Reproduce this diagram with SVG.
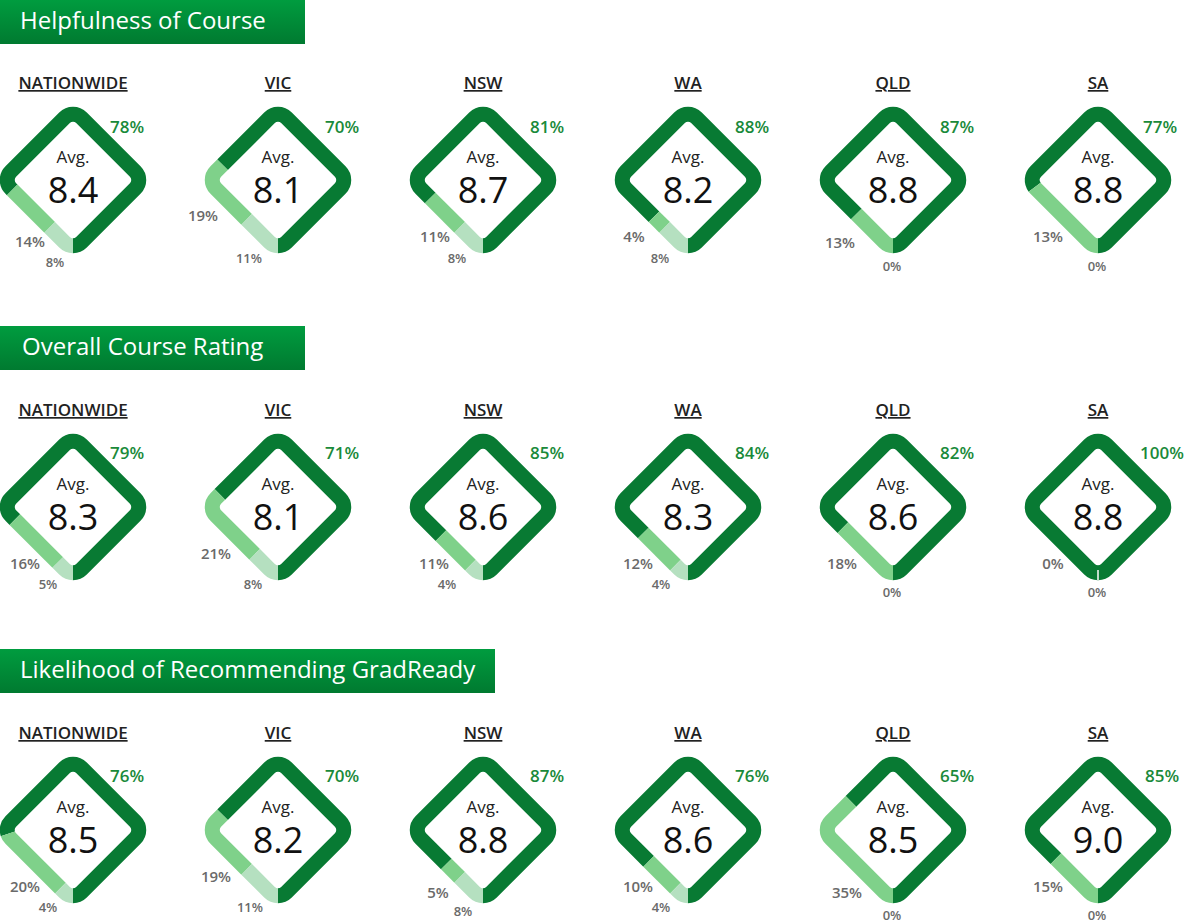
<svg xmlns="http://www.w3.org/2000/svg" xmlns:xlink="http://www.w3.org/1999/xlink" width="1189" height="922" viewBox="0 0 1189 922">
<style>
text{font-family:"Open Sans","Noto Sans",sans-serif}
.hd{fill:#fff;font-size:24px}
.reg{font-size:17px;font-weight:600;fill:#222;text-anchor:middle;text-decoration:underline}
.avg{font-size:17px;fill:#222;text-anchor:middle}
.num{font-size:36px;font-weight:500;fill:#111;text-anchor:middle}
.pd{font-size:17px;font-weight:600;fill:#1a8a3a;text-anchor:middle}
.pm{font-size:15px;font-weight:600;fill:#6a6a6a;text-anchor:middle}
.pp{font-size:13px;font-weight:600;fill:#6a6a6a;text-anchor:middle}
.d{fill:none;stroke:#087a33;stroke-width:15}
.m{fill:none;stroke:#7fd18a;stroke-width:15}
.p{fill:none;stroke:#b5e0c0;stroke-width:15}
</style>
<defs>
<linearGradient id="g" x1="0" y1="0" x2="0" y2="1"><stop offset="0" stop-color="#009c3f"/><stop offset="1" stop-color="#007a30"/></linearGradient>
<path id="ring" pathLength="100" d="M46.49 46.49 A12 12 0 0 0 50 38 L50 -38 A12 12 0 0 0 38 -50 L-38 -50 A12 12 0 0 0 -50 -38 L-50 38 A12 12 0 0 0 -38 50 L38 50 A12 12 0 0 0 46.49 46.49"/>
</defs>
<g id="h1"><rect x="0" y="0" width="305" height="44" fill="url(#g)"/><text class="hd" x="20" y="29">Helpfulness of Course</text></g>
<g id="h2"><rect x="0" y="326" width="305" height="44" fill="url(#g)"/><text class="hd" x="22" y="355">Overall Course Rating</text></g>
<g id="h3"><rect x="0" y="649" width="495" height="44" fill="url(#g)"/><text class="hd" x="20" y="678">Likelihood of Recommending GradReady</text></g>

<!-- Row 1 -->
<g id="r1n"><text class="reg" x="73" y="89">NATIONWIDE</text><g transform="translate(73,180) rotate(45)"><use xlink:href="#ring" class="d" stroke-dasharray="78 100"/><use xlink:href="#ring" class="m" stroke-dasharray="0 78 14 100"/><use xlink:href="#ring" class="p" stroke-dasharray="0 92 8 100"/></g><text class="avg" x="73" y="163">Avg.</text><text class="num" x="73" y="203">8.4</text><text class="pd" x="127" y="133">78%</text><text class="pm" x="30" y="247">14%</text><text class="pp" x="55" y="267">8%</text></g>
<g id="r1v"><text class="reg" x="278" y="89">VIC</text><g transform="translate(278,180) rotate(45)"><use xlink:href="#ring" class="d" stroke-dasharray="70 100"/><use xlink:href="#ring" class="m" stroke-dasharray="0 70 19 100"/><use xlink:href="#ring" class="p" stroke-dasharray="0 89 11 100"/></g><text class="avg" x="278" y="163">Avg.</text><text class="num" x="278" y="203">8.1</text><text class="pd" x="342" y="133">70%</text><text class="pm" x="203" y="221">19%</text><text class="pp" x="249" y="263">11%</text></g>
<g id="r1s"><text class="reg" x="483" y="89">NSW</text><g transform="translate(483,180) rotate(45)"><use xlink:href="#ring" class="d" stroke-dasharray="81 100"/><use xlink:href="#ring" class="m" stroke-dasharray="0 81 11 100"/><use xlink:href="#ring" class="p" stroke-dasharray="0 92 8 100"/></g><text class="avg" x="483" y="163">Avg.</text><text class="num" x="483" y="203">8.7</text><text class="pd" x="547" y="133">81%</text><text class="pm" x="435" y="242">11%</text><text class="pp" x="457" y="263">8%</text></g>
<g id="r1w"><text class="reg" x="688" y="89">WA</text><g transform="translate(688,180) rotate(45)"><use xlink:href="#ring" class="d" stroke-dasharray="88 100"/><use xlink:href="#ring" class="m" stroke-dasharray="0 88 4 100"/><use xlink:href="#ring" class="p" stroke-dasharray="0 92 8 100"/></g><text class="avg" x="688" y="163">Avg.</text><text class="num" x="688" y="203">8.2</text><text class="pd" x="752" y="133">88%</text><text class="pm" x="634" y="242">4%</text><text class="pp" x="660" y="263">8%</text></g>
<g id="r1q"><text class="reg" x="893" y="89">QLD</text><g transform="translate(893,180) rotate(45)"><use xlink:href="#ring" class="d" stroke-dasharray="87 100"/><use xlink:href="#ring" class="m" stroke-dasharray="0 87 13 100"/></g><text class="avg" x="893" y="163">Avg.</text><text class="num" x="893" y="203">8.8</text><text class="pd" x="957" y="133">87%</text><text class="pm" x="840" y="248">13%</text><text class="pp" x="892" y="271">0%</text></g>
<g id="r1a"><text class="reg" x="1098" y="89">SA</text><g transform="translate(1098,180) rotate(45)"><use xlink:href="#ring" class="d" stroke-dasharray="77 100"/><use xlink:href="#ring" class="m" stroke-dasharray="0 77 23 100"/></g><text class="avg" x="1098" y="163">Avg.</text><text class="num" x="1098" y="203">8.8</text><text class="pd" x="1160" y="133">77%</text><text class="pm" x="1048" y="242">13%</text><text class="pp" x="1097" y="271">0%</text></g>

<!-- Row 2 -->
<g id="r2n"><text class="reg" x="73" y="416">NATIONWIDE</text><g transform="translate(73,507) rotate(45)"><use xlink:href="#ring" class="d" stroke-dasharray="79 100"/><use xlink:href="#ring" class="m" stroke-dasharray="0 79 16 100"/><use xlink:href="#ring" class="p" stroke-dasharray="0 95 5 100"/></g><text class="avg" x="73" y="490">Avg.</text><text class="num" x="73" y="530">8.3</text><text class="pd" x="127" y="459">79%</text><text class="pm" x="25" y="569">16%</text><text class="pp" x="48" y="589">5%</text></g>
<g id="r2v"><text class="reg" x="278" y="416">VIC</text><g transform="translate(278,507) rotate(45)"><use xlink:href="#ring" class="d" stroke-dasharray="71 100"/><use xlink:href="#ring" class="m" stroke-dasharray="0 71 21 100"/><use xlink:href="#ring" class="p" stroke-dasharray="0 92 8 100"/></g><text class="avg" x="278" y="490">Avg.</text><text class="num" x="278" y="530">8.1</text><text class="pd" x="342" y="459">71%</text><text class="pm" x="216" y="559">21%</text><text class="pp" x="253" y="589">8%</text></g>
<g id="r2s"><text class="reg" x="483" y="416">NSW</text><g transform="translate(483,507) rotate(45)"><use xlink:href="#ring" class="d" stroke-dasharray="85 100"/><use xlink:href="#ring" class="m" stroke-dasharray="0 85 11 100"/><use xlink:href="#ring" class="p" stroke-dasharray="0 96 4 100"/></g><text class="avg" x="483" y="490">Avg.</text><text class="num" x="483" y="530">8.6</text><text class="pd" x="547" y="459">85%</text><text class="pm" x="434" y="569">11%</text><text class="pp" x="447" y="589">4%</text></g>
<g id="r2w"><text class="reg" x="688" y="416">WA</text><g transform="translate(688,507) rotate(45)"><use xlink:href="#ring" class="d" stroke-dasharray="84 100"/><use xlink:href="#ring" class="m" stroke-dasharray="0 84 12 100"/><use xlink:href="#ring" class="p" stroke-dasharray="0 96 4 100"/></g><text class="avg" x="688" y="490">Avg.</text><text class="num" x="688" y="530">8.3</text><text class="pd" x="752" y="459">84%</text><text class="pm" x="638" y="569">12%</text><text class="pp" x="661" y="589">4%</text></g>
<g id="r2q"><text class="reg" x="893" y="416">QLD</text><g transform="translate(893,507) rotate(45)"><use xlink:href="#ring" class="d" stroke-dasharray="82 100"/><use xlink:href="#ring" class="m" stroke-dasharray="0 82 18 100"/></g><text class="avg" x="893" y="490">Avg.</text><text class="num" x="893" y="530">8.6</text><text class="pd" x="957" y="459">82%</text><text class="pm" x="842" y="569">18%</text><text class="pp" x="892" y="597">0%</text></g>
<g id="r2a"><text class="reg" x="1098" y="416">SA</text><g transform="translate(1098,507) rotate(45)"><use xlink:href="#ring" class="d" stroke-dasharray="100 100"/></g><line x1="1098" y1="570" x2="1098" y2="580" stroke="#fff" stroke-width="1.5"/><text class="avg" x="1098" y="490">Avg.</text><text class="num" x="1098" y="530">8.8</text><text class="pd" x="1162" y="459">100%</text><text class="pm" x="1053" y="569">0%</text><text class="pp" x="1097" y="597">0%</text></g>

<!-- Row 3 -->
<g id="r3n"><text class="reg" x="73" y="739">NATIONWIDE</text><g transform="translate(73,830) rotate(45)"><use xlink:href="#ring" class="d" stroke-dasharray="76 100"/><use xlink:href="#ring" class="m" stroke-dasharray="0 76 20 100"/><use xlink:href="#ring" class="p" stroke-dasharray="0 96 4 100"/></g><text class="avg" x="73" y="813">Avg.</text><text class="num" x="73" y="853">8.5</text><text class="pd" x="127" y="782">76%</text><text class="pm" x="25" y="892">20%</text><text class="pp" x="48" y="912">4%</text></g>
<g id="r3v"><text class="reg" x="278" y="739">VIC</text><g transform="translate(278,830) rotate(45)"><use xlink:href="#ring" class="d" stroke-dasharray="70 100"/><use xlink:href="#ring" class="m" stroke-dasharray="0 70 19 100"/><use xlink:href="#ring" class="p" stroke-dasharray="0 89 11 100"/></g><text class="avg" x="278" y="813">Avg.</text><text class="num" x="278" y="853">8.2</text><text class="pd" x="342" y="782">70%</text><text class="pm" x="216" y="882">19%</text><text class="pp" x="250" y="912">11%</text></g>
<g id="r3s"><text class="reg" x="483" y="739">NSW</text><g transform="translate(483,830) rotate(45)"><use xlink:href="#ring" class="d" stroke-dasharray="87 100"/><use xlink:href="#ring" class="m" stroke-dasharray="0 87 5 100"/><use xlink:href="#ring" class="p" stroke-dasharray="0 92 8 100"/></g><text class="avg" x="483" y="813">Avg.</text><text class="num" x="483" y="853">8.8</text><text class="pd" x="547" y="782">87%</text><text class="pm" x="438" y="898">5%</text><text class="pp" x="463" y="916">8%</text></g>
<g id="r3w"><text class="reg" x="688" y="739">WA</text><g transform="translate(688,830) rotate(45)"><use xlink:href="#ring" class="d" stroke-dasharray="86 100"/><use xlink:href="#ring" class="m" stroke-dasharray="0 86 10 100"/><use xlink:href="#ring" class="p" stroke-dasharray="0 96 4 100"/></g><text class="avg" x="688" y="813">Avg.</text><text class="num" x="688" y="853">8.6</text><text class="pd" x="752" y="782">76%</text><text class="pm" x="638" y="892">10%</text><text class="pp" x="661" y="912">4%</text></g>
<g id="r3q"><text class="reg" x="893" y="739">QLD</text><g transform="translate(893,830) rotate(45)"><use xlink:href="#ring" class="d" stroke-dasharray="65 100"/><use xlink:href="#ring" class="m" stroke-dasharray="0 65 35 100"/></g><text class="avg" x="893" y="813">Avg.</text><text class="num" x="893" y="853">8.5</text><text class="pd" x="957" y="782">65%</text><text class="pm" x="847" y="898">35%</text><text class="pp" x="892" y="920">0%</text></g>
<g id="r3a"><text class="reg" x="1098" y="739">SA</text><g transform="translate(1098,830) rotate(45)"><use xlink:href="#ring" class="d" stroke-dasharray="85 100"/><use xlink:href="#ring" class="m" stroke-dasharray="0 85 15 100"/></g><text class="avg" x="1098" y="813">Avg.</text><text class="num" x="1098" y="853">9.0</text><text class="pd" x="1162" y="782">85%</text><text class="pm" x="1048" y="892">15%</text><text class="pp" x="1097" y="920">0%</text></g>
</svg>
